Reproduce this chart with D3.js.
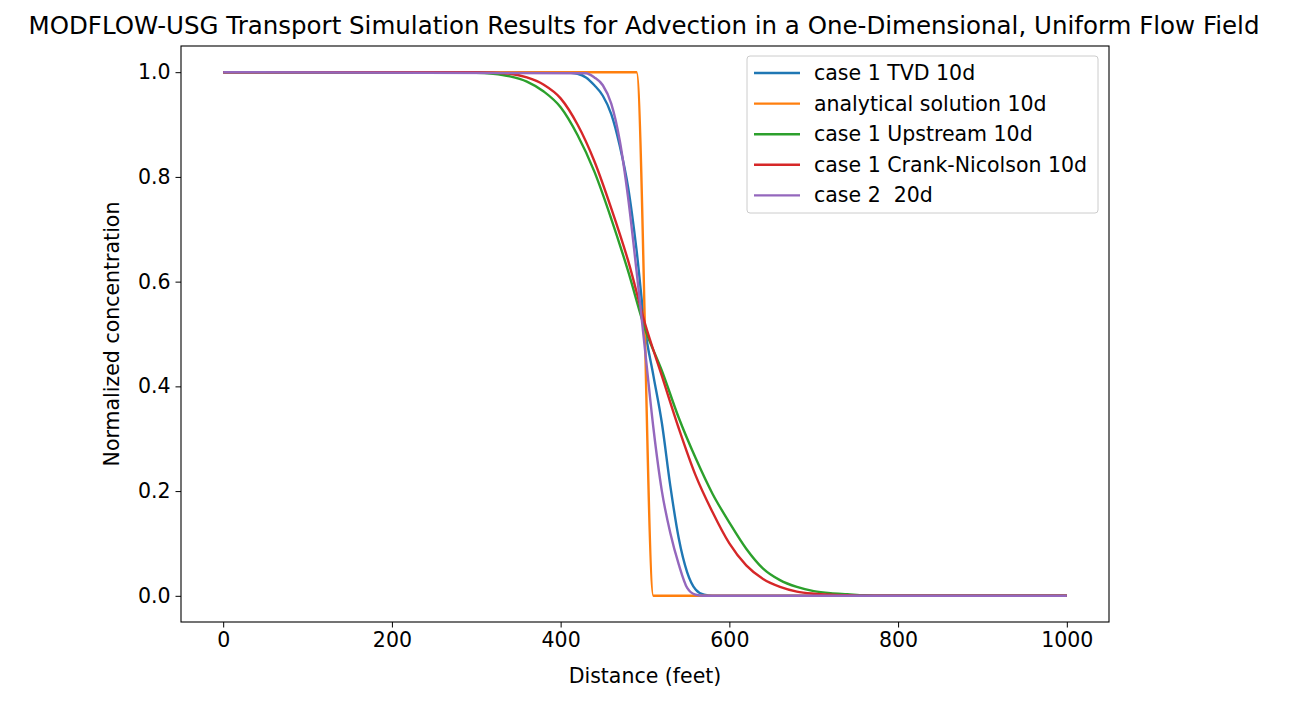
<!DOCTYPE html>
<html><head><meta charset="utf-8">
<script src="https://cdn.jsdelivr.net/npm/d3@7"></script>
<style>body{margin:0;background:#fff}text{font-family:"DejaVu Sans",sans-serif;fill:#000;white-space:pre}</style>
</head><body><svg id="c" width="1289" height="701"></svg>
<script>
const xTicks=[0,200,400,600,800,1000];
const yTicks=[0.0,0.2,0.4,0.6,0.8,1.0];
const tvdX=[0,400,410,420,430,440,450,460,470,480,490,500,510,520,530,540,550,560,570,580,1000];
const tvdY=[1,1.0,0.999,0.997,0.99,0.975,0.955,0.92,0.86,0.78,0.66,0.51,0.42,0.33,0.21,0.11,0.045,0.012,0.002,0,0];
const anaX=[0,490,510,1000];
const anaY=[1,1,0,0];
const upX=[0,300,320,340,360,380,400,420,440,460,480,500,520,540,560,580,600,620,640,660,680,700,720,740,760,780,1000];
const upY=[1,0.999,0.997,0.992,0.982,0.963,0.933,0.88,0.81,0.72,0.62,0.51,0.43,0.34,0.263,0.195,0.14,0.09,0.052,0.03,0.017,0.009,0.005,0.003,0.001,0,0];
const cnX=[0,300,320,340,360,380,400,420,440,460,480,500,520,540,560,580,600,620,640,660,680,700,720,740,760,1000];
const cnY=[1,1,0.999,0.997,0.99,0.976,0.95,0.90,0.83,0.74,0.64,0.52,0.42,0.32,0.23,0.16,0.10,0.058,0.032,0.017,0.008,0.004,0.002,0.001,0,0];
const c2X=[0,430,440,450,460,470,480,490,500,510,520,530,540,550,560,570,1000];
const c2Y=[1,0.998,0.99,0.975,0.94,0.87,0.76,0.62,0.47,0.32,0.20,0.12,0.06,0.015,0.002,0,0];
const series=[
 {name:"case 1 TVD 10d",x:tvdX,y:tvdY,c:"#1f77b4"},
 {name:"analytical solution 10d",x:anaX,y:anaY,c:"#ff7f0e"},
 {name:"case 1 Upstream 10d",x:upX,y:upY,c:"#2ca02c"},
 {name:"case 1 Crank-Nicolson 10d",x:cnX,y:cnY,c:"#d62728"},
 {name:"case 2  20d",x:c2X,y:c2Y,c:"#9467bd"}];
const svg=d3.select("#c");
const L=181,R=1109,T=46,B=622;
const x=d3.scaleLinear().domain([-50,1050]).range([L,R]);
const y=d3.scaleLinear().domain([-0.05,1.05]).range([B,T]);
const line=d3.line().curve(d3.curveMonotoneX).x(d=>x(d[0])).y(d=>y(d[1]));
series.forEach(s=>{
 svg.append("path").attr("d",line(s.x.map((v,i)=>[v,s.y[i]]))).attr("fill","none").attr("stroke",s.c).attr("stroke-width",2.4);
});
svg.append("rect").attr("x",L).attr("y",T).attr("width",R-L).attr("height",B-T).attr("fill","none").attr("stroke","#000").attr("stroke-width",1.1);
const fs="20.5px";
const xa=svg.append("g").attr("transform",`translate(0,${B})`).call(d3.axisBottom(x).tickValues(xTicks).tickSize(5.5).tickPadding(5).tickFormat(d3.format("d")));
const ya=svg.append("g").attr("transform",`translate(${L},0)`).call(d3.axisLeft(y).tickValues(yTicks).tickSize(5.5).tickPadding(5).tickFormat(d3.format(".1f")));
[xa,ya].forEach(a=>{a.select(".domain").remove();a.selectAll("text").style("font-size",fs).style("font-family","DejaVu Sans");a.selectAll("line").attr("stroke","#000")});
svg.append("text").attr("x",644).attr("y",34).attr("text-anchor","middle").style("font-size","24.5px").text("MODFLOW-USG Transport Simulation Results for Advection in a One-Dimensional, Uniform Flow Field");
svg.append("text").attr("x",645).attr("y",683).attr("text-anchor","middle").style("font-size",fs).text("Distance (feet)");
svg.append("text").attr("transform","translate(119,334) rotate(-90)").attr("text-anchor","middle").style("font-size",fs).text("Normalized concentration");
const lg=svg.append("g");
lg.append("rect").attr("x",747).attr("y",56).attr("width",351).attr("height",157).attr("rx",3).attr("fill","#fff").attr("stroke","#ccc");
series.forEach((s,i)=>{
 const yy=73+i*30.6;
 lg.append("line").attr("x1",754).attr("x2",800).attr("y1",yy).attr("y2",yy).attr("stroke",s.c).attr("stroke-width",2.4);
 lg.append("text").attr("x",814).attr("y",yy+7).style("font-size",fs).text(s.name);
});
</script></body></html>
